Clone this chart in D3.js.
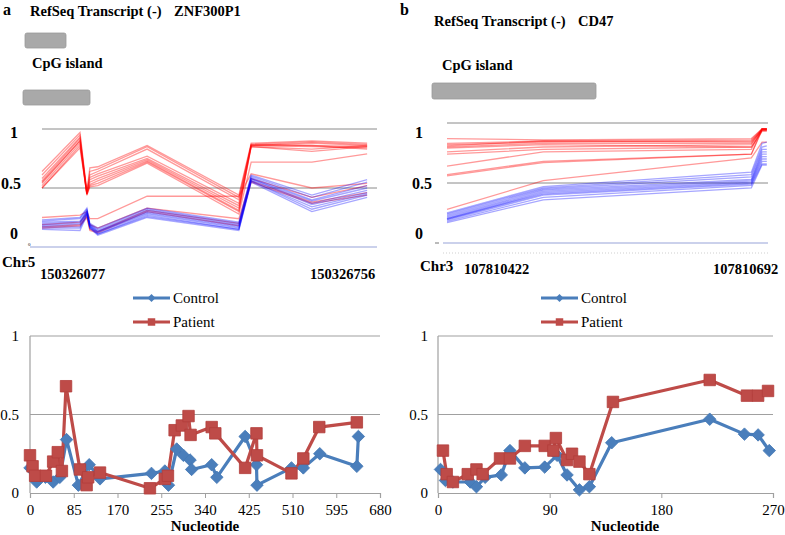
<!DOCTYPE html>
<html><head><meta charset="utf-8">
<script src="https://cdn.jsdelivr.net/npm/d3@7"></script>
<style>body{margin:0;background:#fff} svg{display:block} svg text{font-family:"Liberation Serif","Times New Roman",serif !important;fill:#000}</style>
</head><body><svg id="c" width="785" height="535"></svg>
<script>
// ---------- DATA ----------
const yTicks = [0, 0.5, 1];
const yTickLabels = ["0", "0.5", "1"];
const bottomLeftXTicks = [0, 85, 170, 255, 340, 425, 510, 595, 680];
const bottomRightXTicks = [0, 90, 180, 270];
const seriesNames = ["Control", "Patient"];

// Panel a, top: CpG positions (offset from 150326077) and per-sample methylation
const topLeftPositions = [0, 77, 91, 97, 113, 213, 399, 424, 547, 659];
const topLeftPatient = [
  [0.64, 0.97, 0.47, 0.67, 0.68, 0.86, 0.44, 0.88, 0.90, 0.88],
  [0.61, 0.95, 0.46, 0.64, 0.66, 0.85, 0.42, 0.87, 0.89, 0.87],
  [0.58, 0.93, 0.45, 0.61, 0.64, 0.83, 0.40, 0.86, 0.88, 0.86],
  [0.56, 0.92, 0.46, 0.59, 0.62, 0.77, 0.37, 0.87, 0.86, 0.85],
  [0.54, 0.90, 0.45, 0.57, 0.60, 0.75, 0.35, 0.86, 0.85, 0.84],
  [0.52, 0.88, 0.45, 0.55, 0.58, 0.74, 0.33, 0.85, 0.83, 0.86],
  [0.50, 0.86, 0.44, 0.53, 0.56, 0.73, 0.31, 0.85, 0.81, 0.85],
  [0.50, 0.84, 0.45, 0.52, 0.54, 0.72, 0.30, 0.86, 0.86, 0.83],
  [0.55, 0.90, 0.44, 0.51, 0.52, 0.71, 0.28, 0.72, 0.72, 0.79],
  [0.25, 0.27, 0.30, 0.24, 0.24, 0.43, 0.43, 0.62, 0.50, 0.54],
  [0.19, 0.21, 0.28, 0.19, 0.16, 0.33, 0.24, 0.58, 0.42, 0.52],
  [0.17, 0.19, 0.26, 0.15, 0.13, 0.31, 0.20, 0.56, 0.38, 0.46],
  [0.16, 0.18, 0.25, 0.14, 0.12, 0.30, 0.18, 0.55, 0.37, 0.44]
];
const topLeftControl = [
  [0.23, 0.25, 0.33, 0.20, 0.16, 0.33, 0.21, 0.61, 0.44, 0.57],
  [0.22, 0.24, 0.32, 0.19, 0.15, 0.32, 0.20, 0.60, 0.42, 0.55],
  [0.21, 0.22, 0.31, 0.19, 0.14, 0.31, 0.19, 0.59, 0.40, 0.52],
  [0.20, 0.21, 0.30, 0.18, 0.13, 0.30, 0.18, 0.58, 0.39, 0.50],
  [0.19, 0.20, 0.30, 0.18, 0.13, 0.29, 0.17, 0.58, 0.37, 0.48],
  [0.18, 0.19, 0.29, 0.17, 0.12, 0.28, 0.16, 0.57, 0.36, 0.46],
  [0.17, 0.17, 0.28, 0.17, 0.11, 0.27, 0.15, 0.56, 0.34, 0.45],
  [0.16, 0.16, 0.28, 0.16, 0.11, 0.26, 0.15, 0.56, 0.32, 0.44],
  [0.15, 0.14, 0.27, 0.16, 0.10, 0.25, 0.14, 0.55, 0.30, 0.42]
];

// Panel b, top: CpG positions (offset from 107810422)
const topRightPositions = [0, 81, 256, 265, 269];
const topRightPatient = [
  [0.87, 0.86, 0.87, 0.95, 0.95],
  [0.83, 0.85, 0.86, 0.95, 0.95],
  [0.82, 0.84, 0.85, 0.94, 0.94],
  [0.81, 0.85, 0.84, 0.95, 0.95],
  [0.80, 0.83, 0.83, 0.94, 0.94],
  [0.79, 0.82, 0.80, 0.93, 0.93],
  [0.76, 0.80, 0.82, 0.95, 0.95],
  [0.74, 0.78, 0.80, 0.94, 0.94],
  [0.64, 0.76, 0.78, 0.95, 0.95],
  [0.57, 0.68, 0.74, 0.94, 0.94],
  [0.56, 0.67, 0.74, 0.95, 0.95],
  [0.28, 0.52, 0.71, 0.84, 0.84]
];
const topRightControl = [
  [0.25, 0.47, 0.59, 0.83, 0.84],
  [0.24, 0.46, 0.57, 0.80, 0.81],
  [0.23, 0.45, 0.55, 0.78, 0.78],
  [0.22, 0.44, 0.53, 0.76, 0.76],
  [0.21, 0.43, 0.52, 0.74, 0.74],
  [0.20, 0.42, 0.51, 0.72, 0.72],
  [0.20, 0.41, 0.50, 0.70, 0.70],
  [0.19, 0.40, 0.49, 0.68, 0.68],
  [0.18, 0.38, 0.48, 0.66, 0.66],
  [0.17, 0.36, 0.46, 0.65, 0.65]
];

// Panel a, bottom: mean methylation per nucleotide
const bottomLeftControlPos = [0, 13, 30, 45, 58, 71, 94, 115, 136, 236, 262, 269, 285, 298, 311, 314, 353, 363, 418, 440, 441, 508, 531, 563, 635, 638];
const bottomLeftControlVal = [0.16, 0.07, 0.10, 0.07, 0.10, 0.34, 0.05, 0.18, 0.09, 0.125, 0.14, 0.05, 0.28, 0.24, 0.21, 0.15, 0.18, 0.10, 0.36, 0.18, 0.05, 0.16, 0.16, 0.25, 0.17, 0.36];
const bottomLeftPatientPos = [0, 5, 10, 31, 45, 54, 62, 70, 97, 110, 113, 136, 233, 262, 268, 281, 295, 308, 312, 353, 360, 418, 440, 441, 508, 531, 562, 635];
const bottomLeftPatientVal = [0.24, 0.17, 0.11, 0.11, 0.20, 0.26, 0.14, 0.68, 0.15, 0.05, 0.10, 0.13, 0.03, 0.09, 0.11, 0.40, 0.43, 0.49, 0.37, 0.42, 0.38, 0.16, 0.38, 0.24, 0.125, 0.22, 0.42, 0.45];

// Panel b, bottom
const bottomRightControlPos = [2, 6, 12, 26, 31, 38, 51, 58, 70, 86, 96, 104, 114, 122, 140, 219, 247, 258, 267];
const bottomRightControlVal = [0.15, 0.08, 0.07, 0.07, 0.04, 0.10, 0.115, 0.27, 0.16, 0.165, 0.24, 0.115, 0.02, 0.04, 0.32, 0.47, 0.375, 0.37, 0.27];
const bottomRightPatientPos = [4, 7, 12, 24, 31, 36, 50, 58, 70, 86, 93, 95, 104, 108, 114, 122, 141, 219, 249, 258, 266];
const bottomRightPatientVal = [0.27, 0.12, 0.07, 0.12, 0.15, 0.12, 0.22, 0.22, 0.30, 0.30, 0.27, 0.35, 0.21, 0.25, 0.20, 0.12, 0.58, 0.72, 0.62, 0.62, 0.65];

// ---------- DRAW ----------
const SERIF = '"Liberation Serif", "Times New Roman", serif';
const svg = d3.select("#c");

function header(letter, lx, ly, title, tx, ty, gene, gx, cpgX, cpgY) {
  svg.append("text").attr("x", lx).attr("y", ly).attr("font-size", 16).attr("font-weight", "bold").text(letter);
  svg.append("text").attr("x", tx).attr("y", ty).attr("font-size", 14.5).attr("font-weight", "bold").text(title);
  svg.append("text").attr("x", gx).attr("y", ty).attr("font-size", 14.5).attr("font-weight", "bold").text(gene);
  svg.append("text").attr("x", cpgX).attr("y", cpgY).attr("font-size", 14.5).attr("font-weight", "bold").text("CpG island");
}
header("a", 3, 15, "RefSeq Transcript (-)", 30, 16, "ZNF300P1", 174, 32, 68);
header("b", 400, 15, "RefSeq Transcript (-)", 434, 26, "CD47", 578, 442, 70);

function bar(x, y, w, h) {
  svg.append("rect").attr("x", x).attr("y", y).attr("width", w).attr("height", h)
    .attr("rx", 2).attr("fill", "#a9a9a9").attr("stroke", "#9a9a9a").attr("stroke-width", 0.8);
}
bar(25, 33, 41, 15);
bar(23, 90, 67, 15);
bar(432, 83, 164, 16);

// ---- top methylation line panels ----
function topPanel(cfg) {
  const x = d3.scaleLinear().domain(cfg.xDomain).range(cfg.xRange);
  const y = d3.scaleLinear().domain([0, 1]).range(cfg.yRange);
  const g = svg.append("g");
  [0.5, 1].forEach(t => g.append("line").attr("x1", cfg.xRange[0]).attr("x2", cfg.xRange[1])
    .attr("y1", y(t)).attr("y2", y(t)).attr("stroke", "#8a8a8a").attr("stroke-width", 1));
  g.append("line").attr("x1", cfg.zeroX).attr("x2", cfg.xRange[1]).attr("y1", y(0)).attr("y2", y(0))
    .attr("stroke", "#97a3d8").attr("stroke-width", 1);
  const line = d3.line().x((d, i) => x(cfg.pos[i])).y(d => y(d));
  cfg.patient.forEach(s => g.append("path").attr("d", line(s)).attr("fill", "none")
    .attr("stroke", "#ff0000").attr("stroke-opacity", 0.4).attr("stroke-width", 1.3));
  cfg.control.forEach(s => g.append("path").attr("d", line(s)).attr("fill", "none")
    .attr("stroke", "#0000ff").attr("stroke-opacity", 0.35).attr("stroke-width", 1.3));
  cfg.labels.forEach(l => g.append("text").attr("x", l[0]).attr("y", l[1]).attr("font-size", 16)
    .attr("font-weight", "bold").attr("text-anchor", "middle").attr("dominant-baseline", "central").text(l[2]));
  return {x, y, g};
}
topPanel({xDomain: [0, 679], xRange: [42, 377], yRange: [247, 129], zeroX: 30,
  pos: topLeftPositions, patient: topLeftPatient, control: topLeftControl,
  labels: [[14, 132, yTickLabels[2]], [11, 183, yTickLabels[1]], [14, 233, yTickLabels[0]]]});
svg.append("text").attr("x", 28).attr("y", 246).attr("font-size", 5).text("0");
topPanel({xDomain: [0, 270], xRange: [447, 768], yRange: [243, 123], zeroX: 443,
  pos: topRightPositions, patient: topRightPatient, control: topRightControl,
  labels: [[419, 132, yTickLabels[2]], [422, 183, yTickLabels[1]], [419, 233, yTickLabels[0]]]});
svg.append("line").attr("x1", 435).attr("x2", 439).attr("y1", 243).attr("y2", 243).attr("stroke", "#777");
svg.append("line").attr("x1", 443).attr("x2", 768).attr("y1", 253).attr("y2", 253)
  .attr("stroke", "#cfcfcf").attr("stroke-dasharray", "1,2");

function coordLabels(chr, cx, cy, a, ax, b, bx, ny) {
  svg.append("text").attr("x", cx).attr("y", cy).attr("font-size", 15).attr("font-weight", "bold").text(chr);
  svg.append("text").attr("x", ax).attr("y", ny).attr("font-size", 14.5).attr("font-weight", "bold").text(a);
  svg.append("text").attr("x", bx).attr("y", ny).attr("font-size", 14.5).attr("font-weight", "bold").text(b);
}
coordLabels("Chr5", 2, 267, "150326077", 40, "150326756", 310, 279);
coordLabels("Chr3", 420, 271, "107810422", 464, "107810692", 713, 274);

// ---- bottom summary charts ----
const controlColor = "#4a7ebb", patientColor = "#be4b48";
const diamond = d3.symbol().type(d3.symbolSquare).size(78);
const square = d3.symbol().type(d3.symbolSquare).size(132);

function drawMarker(g, type, cx, cy) {
  if (type === 0) {
    g.append("path").attr("d", diamond()).attr("transform", `translate(${cx},${cy}) rotate(45)`)
      .attr("fill", controlColor).attr("stroke", "#4579b5").attr("stroke-width", 0.8);
  } else {
    g.append("path").attr("d", square()).attr("transform", `translate(${cx},${cy})`)
      .attr("fill", patientColor).attr("stroke", "#b23e3b").attr("stroke-width", 0.8);
  }
}

function bottomPanel(cfg) {
  const x = d3.scaleLinear().domain([0, cfg.xTicks[cfg.xTicks.length - 1]]).range(cfg.xRange);
  const y = d3.scaleLinear().domain([0, 1]).range([493, 336]);
  const g = svg.append("g");
  [0.5, 1].forEach(t => g.append("line").attr("x1", cfg.xRange[0]).attr("x2", cfg.xRange[1])
    .attr("y1", y(t)).attr("y2", y(t)).attr("stroke", "#a0a0a0").attr("stroke-width", 1.2));
  const xAxis = d3.axisBottom(x).tickValues(cfg.xTicks).tickSize(5).tickFormat(d3.format("d"));
  const ax = g.append("g").attr("transform", "translate(0,493)").call(xAxis);
  ax.attr("font-family", null);
  ax.select(".domain").attr("stroke", "#a0a0a0").attr("stroke-width", 1.2);
  ax.selectAll(".tick line").attr("stroke", "#a0a0a0");
  ax.selectAll(".tick text").attr("font-size", 15).attr("fill", "#000").attr("dy", "0.9em");
  g.append("line").attr("x1", cfg.xRange[0]).attr("x2", cfg.xRange[0]).attr("y1", y(1)).attr("y2", y(0))
    .attr("stroke", "#a0a0a0").attr("stroke-width", 1.2);
  yTicks.forEach((t, i) => g.append("text").attr("x", cfg.yLabelX).attr("y", y(t)).attr("text-anchor", "end")
    .attr("dominant-baseline", "central").attr("font-size", 15).text(yTickLabels[i]));
  g.append("text").attr("x", cfg.titleX).attr("y", 535 - 4).attr("text-anchor", "middle")
    .attr("font-size", 15).attr("font-weight", "bold").text("Nucleotide");

  const series = [[cfg.cPos, cfg.cVal, controlColor], [cfg.pPos, cfg.pVal, patientColor]];
  series.forEach(s => {
    const line = d3.line().x((d, i) => x(s[0][i])).y(d => y(d));
    g.append("path").attr("d", line(s[1])).attr("fill", "none").attr("stroke", s[2])
      .attr("stroke-width", 3.2).attr("stroke-linejoin", "round");
  });
  series.forEach((s, k) => s[1].forEach((v, i) => drawMarker(g, k, x(s[0][i]), y(v))));

  seriesNames.forEach((n, k) => {
    const ly = cfg.legendY + k * 24;
    g.append("line").attr("x1", cfg.legendX).attr("x2", cfg.legendX + 37).attr("y1", ly).attr("y2", ly)
      .attr("stroke", k === 0 ? controlColor : patientColor).attr("stroke-width", 3.2);
    if (k === 0) {
      g.append("path").attr("d", d3.symbol().type(d3.symbolSquare).size(32)()).attr("transform", `translate(${cfg.legendX + 18.5},${ly}) rotate(45)`).attr("fill", controlColor);
    } else {
      g.append("path").attr("d", d3.symbol().type(d3.symbolSquare).size(56)()).attr("transform", `translate(${cfg.legendX + 18.5},${ly})`).attr("fill", patientColor);
    }
    g.append("text").attr("x", cfg.legendX + 40).attr("y", ly).attr("dominant-baseline", "central")
      .attr("font-size", 15).text(n);
  });
}
bottomPanel({xTicks: bottomLeftXTicks, xRange: [30, 380], yLabelX: 19, titleX: 205,
  cPos: bottomLeftControlPos, cVal: bottomLeftControlVal, pPos: bottomLeftPatientPos, pVal: bottomLeftPatientVal,
  legendX: 133, legendY: 298});
bottomPanel({xTicks: bottomRightXTicks, xRange: [438, 773], yLabelX: 428, titleX: 625,
  cPos: bottomRightControlPos, cVal: bottomRightControlVal, pPos: bottomRightPatientPos, pVal: bottomRightPatientVal,
  legendX: 541, legendY: 298});

svg.selectAll("text").style("font-family", SERIF);
</script>
</body></html>
